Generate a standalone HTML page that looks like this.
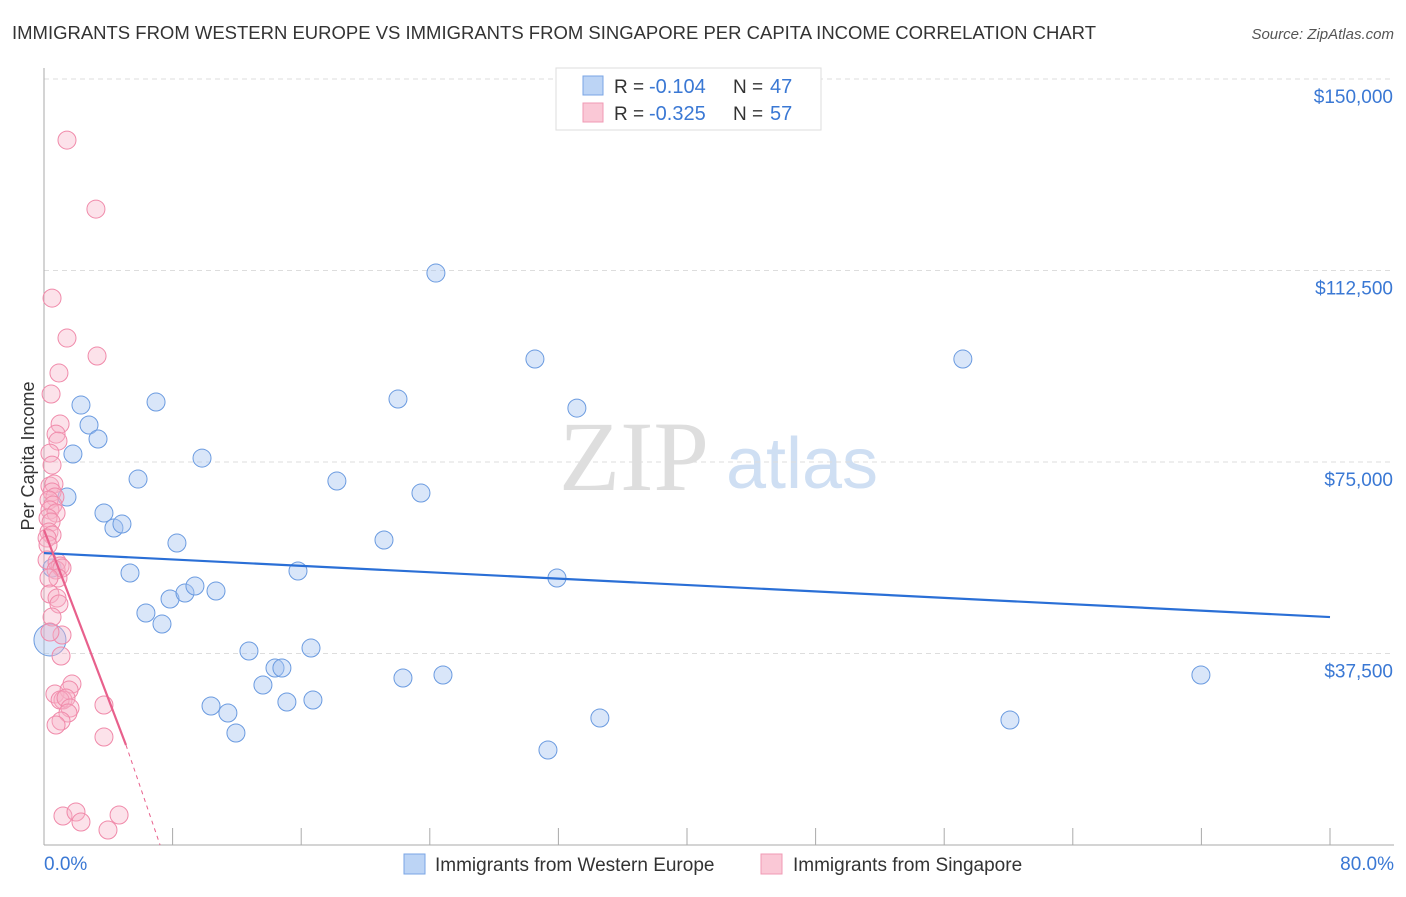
<!DOCTYPE html>
<html><head><meta charset="utf-8"><style>
body{margin:0;background:#fff;font-family:"Liberation Sans",sans-serif;}
</style></head><body>
<svg id="chart" width="1406" height="892" xmlns="http://www.w3.org/2000/svg" font-family="Liberation Sans, sans-serif">
<text x="12" y="39" font-size="18.2" fill="#333" textLength="1084" lengthAdjust="spacingAndGlyphs">IMMIGRANTS FROM WESTERN EUROPE VS IMMIGRANTS FROM SINGAPORE PER CAPITA INCOME CORRELATION CHART</text>
<text x="1394" y="39" font-size="15" fill="#555" font-style="italic" text-anchor="end">Source: ZipAtlas.com</text>
<text transform="translate(34,456) rotate(-90)" font-size="18" fill="#333" text-anchor="middle">Per Capita Income</text>
<g>
<text x="634" y="490" font-size="100" font-family="Liberation Serif, serif" fill="#dedede" text-anchor="middle">ZIP</text>
<text x="802" y="488" font-size="72" fill="#cfdff3" text-anchor="middle">atlas</text>
</g>
<g id="grid"></g><g id="axes"></g><g id="marks"></g>
<g>
<rect x="556" y="68" width="265" height="62" fill="#fff" stroke="#ddd"/>
<rect x="583" y="76" width="20" height="19" fill="#bcd4f5" stroke="#7aa5e5"/>
<rect x="583" y="103" width="20" height="19" fill="#fac8d6" stroke="#f09ab4"/>
<text x="614" y="93" font-size="19" fill="#333">R =</text>
<text x="649" y="93" font-size="20" fill="#3a78d4">-0.104</text>
<text x="733" y="93" font-size="19" fill="#333">N =</text>
<text x="770" y="93" font-size="20" fill="#3a78d4">47</text>
<text x="614" y="120" font-size="19" fill="#333">R =</text>
<text x="649" y="120" font-size="20" fill="#3a78d4">-0.325</text>
<text x="733" y="120" font-size="19" fill="#333">N =</text>
<text x="770" y="120" font-size="20" fill="#3a78d4">57</text>
</g>
<g>
<rect x="404" y="854" width="21" height="20" fill="#bcd4f5" stroke="#7aa5e5"/>
<text x="435" y="871" font-size="19" fill="#333">Immigrants from Western Europe</text>
<rect x="761" y="854" width="21" height="20" fill="#fac8d6" stroke="#f09ab4"/>
<text x="793" y="871" font-size="19" fill="#333">Immigrants from Singapore</text>
</g>
</svg>
<script>
const yTicks=[37500,75000,112500,150000];
const yTickLabels=["$37,500","$75,000","$112,500","$150,000"];
const xTickLabels=["0.0%","80.0%"];
const blueX=[1.43,2.30,2.80,3.36,1.80,0.50,5.85,3.73,4.35,4.85,6.97,9.83,8.27,5.35,6.34,7.34,7.84,8.77,9.39,10.70,12.75,13.62,10.39,11.44,11.94,14.37,14.80,15.11,16.73,16.61,15.80,18.22,21.15,22.02,23.45,22.33,24.82,24.38,30.54,33.15,31.91,31.35,34.58,57.16,60.09,71.97,0.37];
const blueY=[68140,86150,82240,79500,76560,54240,71660,65010,62070,62850,86740,75770,59130,53260,45430,43270,48170,49340,50710,49730,37990,31330,27220,25850,21930,34660,34660,28000,28390,38570,53650,71270,59720,87330,68920,32700,33290,112000,95160,85560,52280,18600,24870,95160,24480,33290,40140];
const pinkX=[1.43,3.23,0.50,1.43,3.30,0.93,0.44,1.00,0.75,0.87,0.37,0.50,0.37,0.62,0.50,0.68,0.31,0.56,0.37,0.75,0.25,0.44,0.31,0.50,0.19,0.25,0.19,0.81,1.00,0.75,1.12,0.87,0.31,0.37,0.81,0.93,0.50,1.12,0.37,1.06,0.68,1.74,1.56,1.18,1.00,1.37,1.62,1.49,1.06,0.75,3.73,3.73,1.18,1.99,2.30,3.98,4.67];
const pinkY=[138040,124530,107100,99270,95750,92420,88310,82430,80470,79100,76750,74400,70290,70680,69120,68140,67550,66570,65590,65010,64030,63240,61290,60700,60110,58740,55800,55410,54630,53850,54240,52280,52280,49150,48360,47190,44640,41120,41710,37010,29570,31520,30350,28390,28390,28780,26820,25850,24280,23500,27410,21150,5680,6460,4500,2940,5870];
const blueTrend=[[0,57170],[80,44640]];
const pinkTrend=[[0,61680],[5.10,19580]];
const pinkTrendDash=[[5.10,19580],[7.22,0]];

const NS="http://www.w3.org/2000/svg";
const X=v=>44+v*(1330-44)/80;
const Y=v=>845-v*766/150000;
function mk(tag,attrs,parent){const e=document.createElementNS(NS,tag);for(const k in attrs)e.setAttribute(k,attrs[k]);document.getElementById(parent).appendChild(e);return e;}

yTicks.forEach((t,i)=>{
  const g=mk('line',{x1:44,x2:1394,y1:Y(t),y2:Y(t),stroke:'#ddd','stroke-dasharray':'5,4'},'grid');
  
  
  const l=mk('text',{x:1393,y:Y(t)+24,'font-size':19,fill:'#3a78d4','text-anchor':'end'},'axes');
  l.textContent=yTickLabels[i];
  
  
});
const ax=mk('line',{x1:44,x2:44,y1:68,y2:845,stroke:'#aaa'},'axes');


const bx=mk('line',{x1:44,x2:1394,y1:845,y2:845,stroke:'#aaa'},'axes');


for(let i=1;i<=10;i++){
  const t=mk('line',{x1:X(i*8),x2:X(i*8),y1:828,y2:845,stroke:'#aaa'},'axes');
  
  
}
[[0,'start',44],[80,'end',1394]].forEach((a,i)=>{
  const l=mk('text',{x:a[2],y:870,'font-size':19,fill:'#3a78d4','text-anchor':a[1]},'axes');
  l.textContent=xTickLabels[i];
  
  
});
blueX.forEach((x,i)=>{
  const r=(i===blueX.length-1)?16:9;
  const c=mk('circle',{cx:X(x),cy:Y(blueY[i]),r:r,fill:'rgba(164,196,240,0.42)',stroke:'#6b9be0','stroke-width':1},'marks');
  
  
});
pinkX.forEach((x,i)=>{
  const c=mk('circle',{cx:X(x),cy:Y(pinkY[i]),r:9,fill:'rgba(248,180,200,0.38)',stroke:'#f08aaa','stroke-width':1},'marks');
  
  
});
const bt=mk('line',{x1:X(blueTrend[0][0]),y1:Y(blueTrend[0][1]),x2:X(blueTrend[1][0]),y2:Y(blueTrend[1][1]),stroke:'#2a6fd6','stroke-width':2.2},'marks');


const pt=mk('line',{x1:X(pinkTrend[0][0]),y1:Y(pinkTrend[0][1]),x2:X(pinkTrend[1][0]),y2:Y(pinkTrend[1][1]),stroke:'#e8608c','stroke-width':2.2},'marks');


const pd=mk('line',{x1:X(pinkTrendDash[0][0]),y1:Y(pinkTrendDash[0][1]),x2:X(pinkTrendDash[1][0]),y2:Y(pinkTrendDash[1][1]),stroke:'#e8608c','stroke-width':1,'stroke-dasharray':'4,4'},'marks');


</script>
</body></html>
